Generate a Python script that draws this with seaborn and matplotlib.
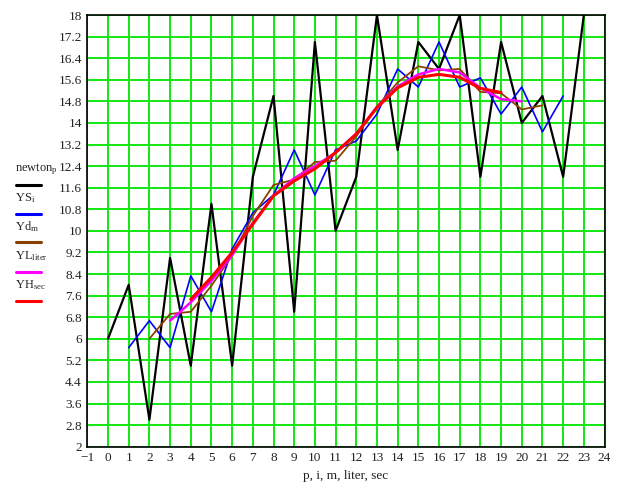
import numpy as np
import seaborn as sns
from matplotlib import pyplot as plt
from matplotlib.lines import Line2D

# values
p = list(range(0, 24))
newton = [6, 8, 3, 9, 5, 11, 5, 12, 15, 7, 17, 10, 12, 18, 13, 17, 16, 18, 12, 17, 14, 15, 12, 18]

i_idx = list(range(1, 23))
YS = [5.67, 6.67, 5.67, 8.33, 7.0, 9.33, 10.67, 11.33, 13.0, 11.33, 13.0,
      13.33, 14.33, 16.0, 15.33, 17.0, 15.33, 15.67, 14.33, 15.33, 13.67, 15.0]

m_idx = list(range(2, 22))
Yd = [6.0, 6.92, 7.0, 7.97, 9.08, 10.55, 11.7, 11.9, 12.55, 12.6,
      13.5, 14.6, 15.5, 16.1, 15.95, 16.0, 15.15, 15.1, 14.5, 14.65]

liter = list(range(3, 21))
YL = [6.67, 7.35, 8.15, 9.1, 10.3, 11.3, 11.95, 12.4, 12.9, 13.6,
      14.6, 15.35, 15.8, 16.0, 15.87, 15.3, 14.88, 14.8]

sec = list(range(4, 20))
YH = [7.46, 8.28, 9.2, 10.25, 11.3, 11.85, 12.3, 12.9, 13.59, 14.57,
      15.3, 15.69, 15.8, 15.69, 15.28, 15.13]

y_ticks = [round(2 + 0.8 * k, 1) for k in range(21)]
x_ticks = list(range(-1, 25))

sns.set_style('white')
plt.rcParams['font.family'] = ['Liberation Serif', 'DejaVu Serif']
plt.rcParams['mathtext.fontset'] = 'custom'
plt.rcParams['mathtext.rm'] = 'Liberation Serif'
plt.rcParams['mathtext.it'] = 'Liberation Serif:italic'

fig = plt.figure(figsize=(6.26, 4.84), dpi=100)
ax = fig.add_axes([0.1395, 0.0771, 0.8262, 0.8919])

series = [
    (p, newton, 'black', 1.6),
    (i_idx, YS, '#0000ff', 1.2),
    (m_idx, Yd, '#8b4000', 1.3),
    (liter, YL, '#ff00ff', 1.8),
    (sec, YH, '#ff0000', 2.2),
]
for xs, ys, col, lw in series:
    sns.lineplot(x=xs, y=ys, ax=ax, color=col, linewidth=lw, sort=False)

ax.set_xlim(-1, 24)
ax.set_ylim(2, 18)
ax.set_xticks(x_ticks)
ax.set_yticks(y_ticks)
ax.set_yticklabels([f'{v:g}' for v in y_ticks])
ax.set_xticklabels([f'{v}'.replace('-', '\u2212') for v in x_ticks])
ax.grid(True, color='#00e600', linewidth=1.3)
ax.set_axisbelow(True)
ax.tick_params(length=0, labelsize=9.5, pad=4, colors='#222222')
for s in ax.spines.values():
    s.set_color('black')
    s.set_linewidth(1.2)
ax.set_xlabel('p, i, m, liter, sec', fontsize=9.5, labelpad=4, color='#222222')

# legend drawn at the left, outside the plot
labels = [r'newton$_{\mathrm{p}}$', r'YS$_{\mathrm{i}}$', r'Yd$_{\mathrm{m}}$',
          r'YL$_{\mathrm{liter}}$', r'YH$_{\mathrm{sec}}$']
text_y = [169, 198, 227, 256, 285]
line_y = [184.5, 213.5, 242.5, 271.5, 300.5]
for (xs, ys, col, lw), lab, ty, ly in zip(series, labels, text_y, line_y):
    fig.text(15 / 626, 1 - ty / 484, lab, fontsize=9, va='center', ha='left')
    fig.add_artist(Line2D([16 / 626, 41 / 626], [1 - ly / 484, 1 - ly / 484],
                          color=col, linewidth=2.2, transform=fig.transFigure))

fig.savefig('out.png', dpi=100)
